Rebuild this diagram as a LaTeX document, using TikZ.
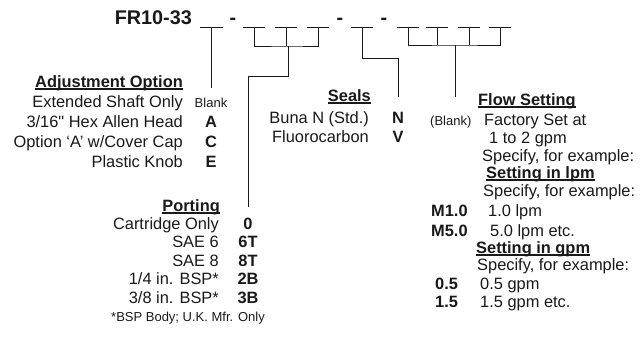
\documentclass[tikz,border=0pt]{standalone}
\usepackage{fontspec}
\setmainfont{Liberation Sans}
\usepackage{xcolor}
\usepackage{tikz}
\usetikzlibrary{positioning,calc}
\definecolor{inkgray}{RGB}{25,25,25}
\newcommand{\ulhead}[1]{\setbox0=\hbox{#1}\rlap{\rule[-2.6pt]{\wd0}{1.2pt}}\box0}

\begin{document}
\begin{tikzpicture}[
  x=1pt, y=-1pt,
  optname/.style={anchor=base east, inner sep=0pt, text=inkgray, font=\fontsize{16.4}{20}\selectfont},
  optdesc/.style={anchor=base west, inner sep=0pt, text=inkgray, font=\fontsize{16.4}{20}\selectfont},
  codebold/.style={anchor=base, inner sep=0pt, text=inkgray, font=\fontsize{16.4}{20}\selectfont\bfseries},
  codesmall/.style={anchor=base, inner sep=0pt, text=inkgray, font=\fontsize{13}{15}\selectfont},
  heading/.style={inner sep=0pt, text=inkgray, font=\fontsize{16.4}{20}\selectfont\bfseries},
  divider/.style={anchor=base, inner sep=0pt, text=inkgray, font=\fontsize{19.8}{22}\selectfont\bfseries},
  blank/.style={inner sep=0pt, text=inkgray},
  link/.style={line width=0.9pt, color=inkgray}
]
\useasboundingbox (0,0) rectangle (643,338);

% model code with blanks
\node[divider, anchor=base east] (model) at (192,24) {FR10-33};
\node[blank] (b1) at (211.5,27) {\rule{23pt}{0.9pt}};
\node[divider] (d1) at (233,24) {-};
\node[blank] (b2) at (254,27) {\rule{22pt}{0.9pt}};
\node[blank] (b3) at (286,27) {\rule{22pt}{0.9pt}};
\node[blank] (b4) at (318,27) {\rule{22pt}{0.9pt}};
\node[divider] (d2) at (340,24) {-};
\node[blank] (b5) at (362,27) {\rule{22pt}{0.9pt}};
\node[divider] (d3) at (384,24) {-};
\node[blank] (b6) at (408,27) {\rule{22pt}{0.9pt}};
\node[blank] (b7) at (437,27) {\rule{22pt}{0.9pt}};
\node[blank] (b8) at (469,27) {\rule{22pt}{0.9pt}};
\node[blank] (b9) at (500,27) {\rule{22pt}{0.9pt}};

% adjustment option
\node[heading, anchor=base east] (adjhead) at (183,87) {\ulhead{Adjustment Option}};
\node[optname] (adj0) at (183,107) {Extended Shaft Only};
\node[optname] (adj1) at (183,127) {3/16\textquotedbl{} Hex Allen Head};
\node[optname] (adj2) at (183,147) {Option ‘A’ w/Cover Cap};
\node[optname] (adj3) at (183,167) {Plastic Knob};
\node[codesmall] (adjc0) at (211,107) {Blank};
\node[codebold] (adjc1) at (211,127) {A};
\node[codebold] (adjc2) at (211,147) {C};
\node[codebold] (adjc3) at (211,167) {E};

% porting
\node[heading, anchor=base east] (porthead) at (220,211) {\ulhead{Porting}};
\node[optname] (port0) at (219,229) {Cartridge Only};
\node[optname] (port1) at (219,247.5) {SAE 6};
\node[optname] (port2) at (219,266) {SAE 8};
\node[optname] (port3) at (219,284.5) {1/4 in. BSP*};
\node[optname] (port4) at (219,303) {3/8 in. BSP*};
\node[codebold] (portc0) at (248,229) {0};
\node[codebold] (portc1) at (248,247.5) {6T};
\node[codebold] (portc2) at (248,266) {8T};
\node[codebold] (portc3) at (248,284.5) {2B};
\node[codebold] (portc4) at (248,303) {3B};
\node[codesmall, anchor=base west] (portnote) at (111,321) {*BSP Body; U.K. Mfr. Only};

% seals
\node[heading, anchor=base east] (sealhead) at (371,101) {\ulhead{Seals}};
\node[optname] (seal0) at (369,123) {Buna N (Std.)};
\node[optname] (seal1) at (369,142) {Fluorocarbon};
\node[codebold] (sealc0) at (398,123) {N};
\node[codebold] (sealc1) at (398,142) {V};

% flow setting
\node[heading, anchor=base west] (flowhead) at (478,105) {\ulhead{Flow Setting}};
\node[codesmall, anchor=base west] (flowc0) at (430,125) {(Blank)};
\node[optdesc] (flow0) at (484,125) {Factory Set at};
\node[optdesc] (flow1) at (489,143) {1 to 2 gpm};
\node[optdesc] (flow2) at (482,161) {Specify, for example:};
\node[heading, anchor=base west] (lpmhead) at (486,178) {\ulhead{Setting in lpm}};
\node[optdesc] (lpm0) at (483,196) {Specify, for example:};
\node[codebold, anchor=base west] (lpmc1) at (431,216) {M1.0};
\node[optdesc] (lpm1) at (488,216) {1.0 lpm};
\node[codebold, anchor=base west] (lpmc2) at (431,236) {M5.0};
\node[optdesc] (lpm2) at (490,236) {5.0 lpm etc.};
\node[heading, anchor=base west] (gpmhead) at (476,253) {\ulhead{Setting in gpm}};
\node[optdesc] (gpm0) at (477,270) {Specify, for example:};
\node[codebold, anchor=base west] (gpmc1) at (435,289) {0.5};
\node[optdesc] (gpm1) at (480,289) {0.5 gpm};
\node[codebold, anchor=base west] (gpmc2) at (435,307) {1.5};
\node[optdesc] (gpm2) at (480,307) {1.5 gpm etc.};

% leader lines
\coordinate (adjend) at (211.5,88);
\coordinate (pmid) at (288,46);
\coordinate (pknee) at (248,76);
\coordinate (pend) at (248,207);
\coordinate (sknee) at (398,58);
\coordinate (send) at (398,97);
\coordinate (fmid) at (455,45);
\coordinate (fend) at (455,97);

\draw[link] (b1) -- (adjend);
\draw[link] (b2) |- (pmid) -| (b4);
\draw[link] (b3) -- (b3 |- pmid);
\draw[link] (pmid) |- (pknee) -- (pend);
\draw[link] (b5) |- (sknee) -- (send);
\draw[link] (b6) |- (fmid) -| (b9);
\draw[link] (b7) -- (b7 |- fmid);
\draw[link] (b8) -- (b8 |- fmid);
\draw[link] (fmid) -- (fend);
\end{tikzpicture}
\end{document}
